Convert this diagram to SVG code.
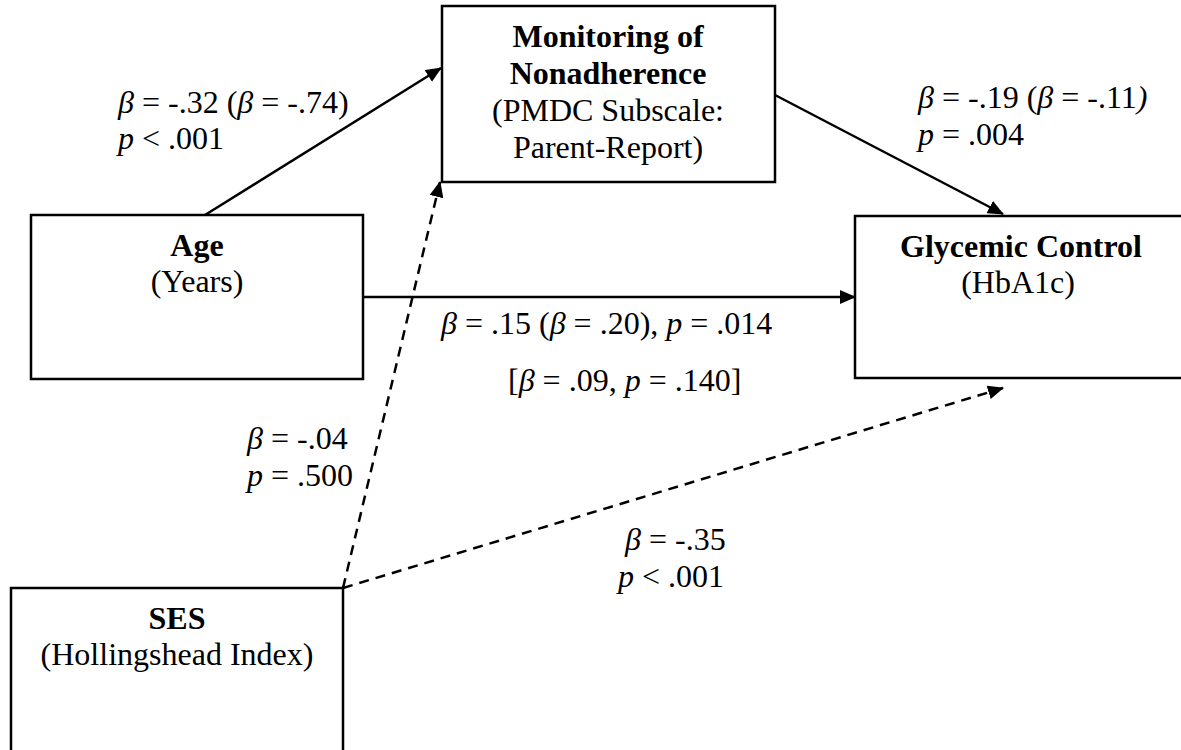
<svg xmlns="http://www.w3.org/2000/svg" width="1181" height="750" viewBox="0 0 1181 750">
<style>
.box{fill:#fff;stroke:#000;stroke-width:2.5}
text{font-family:"Liberation Serif","Times New Roman",serif;font-size:32px;fill:#000}
.c{text-anchor:middle}
.b{font-weight:bold}
.i{font-style:italic}
.ln{fill:none;stroke:#000;stroke-width:2.5}
.d{stroke-dasharray:10 7}
</style>
<defs>
<marker id="ah" markerUnits="userSpaceOnUse" markerWidth="16" markerHeight="14" refX="15" refY="7" orient="auto" viewBox="0 0 16 14">
<path d="M0,0 L16,7 L0,14 z" fill="#000"/>
</marker>
</defs>
<g id="node-monitoring">
<rect class="box" x="442" y="6" width="333" height="176"/>
<text class="c b" x="608" y="47">Monitoring of</text>
<text class="c b" x="608" y="84">Nonadherence</text>
<text class="c" x="608" y="121">(PMDC Subscale:</text>
<text class="c" x="608" y="158">Parent-Report)</text>
</g>
<g id="node-age">
<rect class="box" x="31" y="215" width="332" height="164"/>
<text class="c b" x="197" y="256">Age</text>
<text class="c" x="197" y="292">(Years)</text>
</g>
<g id="node-glycemic">
<rect class="box" x="855" y="216" width="340" height="162"/>
<text class="c b" x="1021" y="257">Glycemic Control</text>
<text class="c" x="1018" y="293">(HbA1c)</text>
</g>
<g id="node-ses">
<rect class="box" x="11" y="588" width="332" height="200"/>
<text class="c b" x="177" y="629">SES</text>
<text class="c" x="177" y="665">(Hollingshead Index)</text>
</g>
<g id="connectors">
<line class="ln" x1="205" y1="215" x2="441" y2="68" marker-end="url(#ah)"/>
<line class="ln" x1="775" y1="95" x2="1003" y2="214" marker-end="url(#ah)"/>
<line class="ln" x1="363" y1="297" x2="855" y2="297" marker-end="url(#ah)"/>
<line class="ln d" x1="343" y1="588" x2="440" y2="182" marker-end="url(#ah)"/>
<line class="ln d" x1="343" y1="588" x2="1003" y2="388" marker-end="url(#ah)"/>
</g>
<g id="labels">
<text x="118" y="113"><tspan class="i">β</tspan> = -.32 (<tspan class="i">β</tspan> = -.74)</text>
<text x="118" y="149"><tspan class="i">p</tspan> &lt; .001</text>
<text x="918" y="108"><tspan class="i">β</tspan> = -.19 (<tspan class="i">β</tspan> = -.11<tspan class="i">)</tspan></text>
<text x="918" y="145"><tspan class="i">p</tspan> = .004</text>
<text x="441" y="334"><tspan class="i">β</tspan> = .15 (<tspan class="i">β</tspan> = .20), <tspan class="i">p</tspan> = .014</text>
<text x="508" y="391">[<tspan class="i">β</tspan> = .09, <tspan class="i">p</tspan> = .140]</text>
<text x="247" y="449"><tspan class="i">β</tspan> = -.04</text>
<text x="247" y="486"><tspan class="i">p</tspan> = .500</text>
<text x="625" y="550"><tspan class="i">β</tspan> = -.35</text>
<text x="618" y="587"><tspan class="i">p</tspan> &lt; .001</text>
</g>
</svg>
